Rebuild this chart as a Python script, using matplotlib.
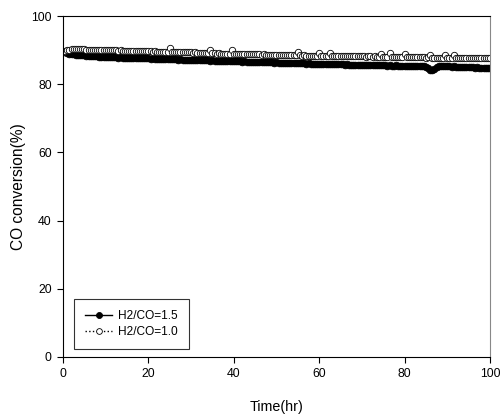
import numpy as np
import matplotlib
matplotlib.use("Agg")
import matplotlib.pyplot as plt

plt.rcParams['font.family'] = ['Liberation Sans', 'DejaVu Sans']

# ==================== data ====================
# sampling every 0.5 hr
time_hr = np.arange(0, 100.5, 0.5)

conv_h2co_15 = [
    89.5, 89.3, 89.1, 89.0, 88.9, 88.8, 88.7, 88.6, 88.6, 88.5,
    88.5, 88.4, 88.4, 88.3, 88.3, 88.2, 88.2, 88.1, 88.1, 88.0,
    88.0, 88.0, 87.9, 88.0, 87.9, 87.9, 87.8, 87.9, 87.8, 87.8,
    87.8, 87.7, 87.8, 87.7, 87.7, 87.6, 87.7, 87.6, 87.6, 87.6,
    87.6, 87.5, 87.6, 87.5, 87.5, 87.4, 87.5, 87.4, 87.4, 87.4,
    87.3, 87.4, 87.3, 87.3, 87.2, 87.3, 87.2, 87.2, 87.2, 87.1,
    87.2, 87.1, 87.1, 87.1, 87.0, 87.1, 87.0, 87.0, 87.0, 86.9,
    87.0, 86.9, 86.9, 86.9, 86.8, 86.9, 86.8, 86.8, 86.8, 86.7,
    86.8, 86.7, 86.7, 86.7, 86.6, 86.7, 86.6, 86.6, 86.6, 86.5,
    86.6, 86.5, 86.5, 86.5, 86.4, 86.5, 86.4, 86.4, 86.4, 86.3,
    86.4, 86.3, 86.3, 86.3, 86.2, 86.3, 86.2, 86.2, 86.2, 86.1,
    86.2, 86.1, 86.1, 86.1, 86.0, 86.1, 86.0, 86.0, 86.0, 86.0,
    86.0, 85.9, 86.0, 85.9, 85.9, 85.9, 85.8, 85.9, 85.8, 85.8,
    85.8, 85.8, 85.7, 85.8, 85.7, 85.7, 85.7, 85.6, 85.7, 85.6,
    85.7, 85.6, 85.6, 85.6, 85.5, 85.6, 85.5, 85.6, 85.5, 85.5,
    85.5, 85.5, 85.4, 85.5, 85.4, 85.4, 85.5, 85.4, 85.4, 85.4,
    85.4, 85.3, 85.4, 85.3, 85.3, 85.4, 85.3, 85.3, 85.2, 85.2,
    85.0, 84.7, 84.3, 84.2, 84.6, 85.0, 85.2, 85.3, 85.2, 85.2,
    85.2, 85.2, 85.1, 85.2, 85.1, 85.1, 85.1, 85.0, 85.1, 85.0,
    85.0, 85.0, 85.0, 84.9, 85.0, 84.9, 84.9, 84.9, 84.9, 84.9,
    84.9,
]

conv_h2co_10 = [
    89.3, 89.6, 89.9, 90.1, 90.2, 90.3, 90.3, 90.3, 90.2, 90.2,
    90.2, 90.1, 90.1, 90.1, 90.0, 90.1, 90.0, 90.0, 90.0, 89.9,
    90.0, 89.9, 89.9, 90.0, 89.9, 89.9, 89.8, 89.9, 89.8, 89.8,
    89.8, 89.8, 89.7, 89.8, 89.7, 89.7, 89.7, 89.6, 89.7, 89.6,
    89.6, 89.6, 89.5, 89.6, 89.5, 89.5, 89.5, 89.4, 89.5, 89.4,
    90.5, 89.4, 89.5, 89.4, 89.4, 89.3, 89.4, 89.3, 89.3, 89.3,
    89.3, 89.2, 89.3, 89.2, 89.2, 89.2, 89.1, 89.2, 89.1, 90.1,
    89.1, 89.1, 89.0, 89.1, 89.0, 89.0, 89.0, 89.0, 89.0, 89.9,
    89.0, 88.9, 89.0, 88.9, 88.9, 88.9, 88.9, 88.8, 88.9, 88.8,
    88.8, 88.8, 88.8, 88.7, 88.8, 88.7, 88.7, 88.7, 88.6, 88.7,
    88.6, 88.6, 88.6, 88.6, 88.5, 88.6, 88.5, 88.5, 88.5, 88.5,
    89.3, 88.5, 88.4, 88.5, 88.4, 88.4, 88.4, 88.4, 88.3, 88.4,
    89.1, 88.4, 88.3, 88.3, 88.3, 89.1, 88.3, 88.3, 88.2, 88.3,
    88.2, 88.3, 88.2, 88.2, 88.3, 88.2, 88.2, 88.2, 88.2, 88.2,
    88.2, 88.2, 88.1, 88.2, 88.2, 88.1, 88.2, 88.1, 88.1, 88.9,
    88.1, 88.1, 88.1, 89.2, 88.1, 88.0, 88.1, 88.0, 88.0, 88.0,
    88.9, 88.0, 88.0, 87.9, 88.0, 87.9, 87.9, 87.9, 87.9, 87.9,
    87.8, 87.9, 88.6, 87.8, 87.8, 87.8, 87.8, 87.8, 87.8, 88.7,
    87.8, 87.8, 87.7, 88.6, 87.7, 87.7, 87.7, 87.7, 87.7, 87.7,
    87.7, 87.7, 87.6, 87.7, 87.6, 87.6, 87.6, 87.6, 87.6, 87.6,
    87.6,
]

x_ticks = [0, 20, 40, 60, 80, 100]
y_ticks = [0, 20, 40, 60, 80, 100]

# ==================== plot ====================
fig = plt.figure(figsize=(5.01, 4.17), dpi=100)
ax = fig.add_axes([0.1257, 0.1439, 0.8523, 0.8177])

ax.plot(time_hr, conv_h2co_15, color='black', linestyle='-', linewidth=1.0,
        marker='o', markersize=4.8, markerfacecolor='black', markeredgecolor='black',
        markeredgewidth=0.6, label='H2/CO=1.5')
ax.plot(time_hr, conv_h2co_10, color='black', linestyle=':', linewidth=1.0,
        marker='o', markersize=4.6, markerfacecolor='white', markeredgecolor='black',
        markeredgewidth=0.6, label='H2/CO=1.0')

ax.set_xlim(0, 100)
ax.set_ylim(0, 100)
ax.set_xticks(x_ticks)
ax.set_yticks(y_ticks)
ax.tick_params(direction='out', length=4, width=0.8, labelsize=8.8, pad=4)
ax.tick_params(top=False, right=False)
ax.spines['right'].set_color('#888888')
for s in ['left', 'bottom', 'top']:
    ax.spines[s].set_linewidth(0.8)

ax.set_xlabel('Time(hr)', fontsize=10.3, labelpad=14)
ax.set_ylabel('CO conversion(%)', fontsize=11.2, labelpad=4)

leg = ax.legend(loc='lower left', bbox_to_anchor=(0.026, 0.023), fontsize=8.6,
                frameon=True, fancybox=False, edgecolor='black',
                handlelength=2.3, handletextpad=0.5, borderpad=0.9,
                labelspacing=0.35, markerscale=0.9, borderaxespad=0)
leg.get_frame().set_linewidth(0.8)

fig.savefig('out.png', dpi=100)
